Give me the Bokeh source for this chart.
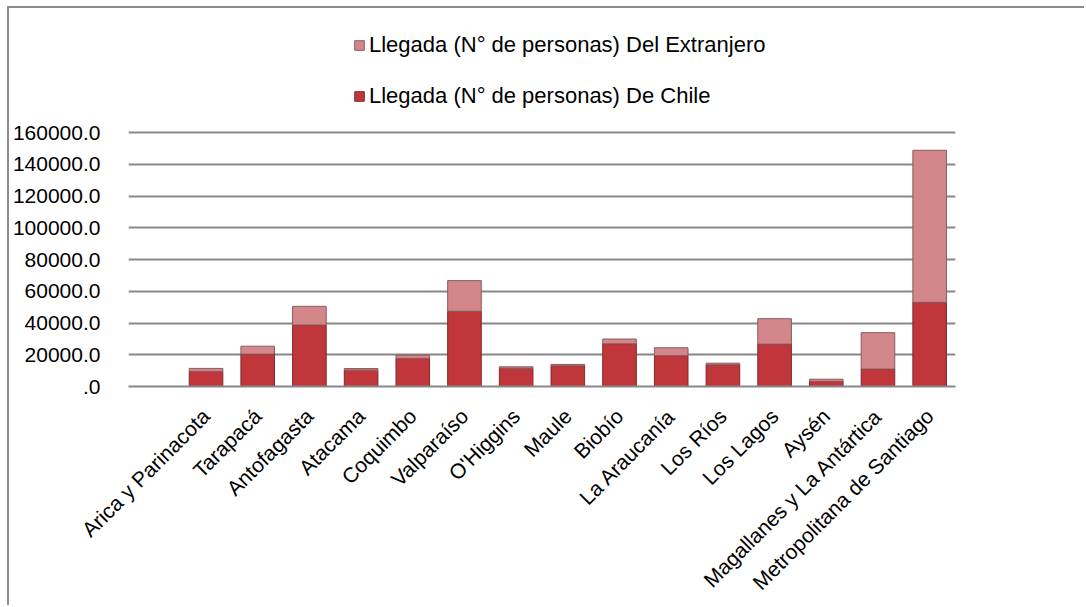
import math
from bokeh.plotting import figure
from bokeh.models import (FactorRange, Range1d, FixedTicker, Legend, LegendItem,
                          ColumnDataSource)
from bokeh.embed import file_html
from bokeh.resources import INLINE

regions = ["Arica y Parinacota", "Tarapacá", "Antofagasta", "Atacama", "Coquimbo",
           "Valparaíso", "O'Higgins", "Maule", "Biobío", "La Araucanía", "Los Ríos",
           "Los Lagos", "Aysén", "Magallanes y La Antártica", "Metropolitana de Santiago"]
de_chile = [9500, 20400, 38700, 10300, 17700, 47400, 11500, 13000, 26900, 19400,
            13700, 26700, 3200, 11000, 53000]
del_extranjero = [1900, 5000, 11800, 1000, 2100, 19300, 900, 900, 3000, 5000,
                  1000, 16000, 1400, 22900, 95800]
y_ticks = [0, 20000, 40000, 60000, 80000, 100000, 120000, 140000, 160000]

label_ext = "Llegada (N° de personas) Del Extranjero"
label_chile = "Llegada (N° de personas) De Chile"

factors = [" "] + regions

src = ColumnDataSource(dict(region=regions, chile=de_chile, ext=del_extranjero))

FONT = "Liberation Sans"
GRID = "#878787"

W, H = 1077, 599
FRAME_TOP_GAP = 124      # px between figure top and the 160000 gridline
FRAME_BOTTOM = 221       # px below the zero line
plot_h = H - FRAME_BOTTOM
y_top = y_ticks[-1] * plot_h / (plot_h - FRAME_TOP_GAP)

p = figure(width=W, height=H, x_range=FactorRange(factors=factors, range_padding=0),
           y_range=Range1d(0, y_top), output_backend="svg", toolbar_location=None,
           min_border_left=118, min_border_right=131, min_border_top=0,
           min_border_bottom=FRAME_BOTTOM)
p.outline_line_color = None
p.styles = {"margin-left": "7px", "margin-top": "6px",
            "border-left": "2px solid #8c8c8c", "border-top": "2px solid #8c8c8c"}

rs = p.vbar_stack(["chile", "ext"], x="region", width=0.65, source=src,
                  fill_color=["#c0363b", "#d4878a"],
                  line_color=["#7e2a2d", "#8a5a5c"], line_width=1)
r_chile, r_ext = rs

legend = Legend(items=[LegendItem(label=label_ext, renderers=[r_ext]),
                       LegendItem(label=label_chile, renderers=[r_chile])],
                location=(225, 277), orientation="vertical", spacing=25,
                glyph_width=12, glyph_height=12, label_standoff=4, padding=0,
                margin=0, border_line_color=None, background_fill_alpha=0,
                label_text_font_size="22px", label_text_font=FONT,
                label_text_color="#000000")
p.add_layout(legend)

p.yaxis.ticker = FixedTicker(ticks=y_ticks)
p.yaxis.major_label_overrides = {t: (f"{t:.1f}" if t else ".0") for t in y_ticks}
p.yaxis.axis_line_color = None
p.yaxis.major_tick_line_color = None
p.yaxis.minor_tick_line_color = None
p.yaxis.major_label_standoff = 22
p.yaxis.major_label_text_font = FONT
p.yaxis.major_label_text_font_size = "21px"
p.yaxis.major_label_text_color = "#000000"

p.xaxis.axis_line_color = GRID
p.xaxis.axis_line_width = 2
p.xaxis.major_tick_line_color = None
p.xaxis.minor_tick_line_color = None
p.xaxis.major_label_orientation = math.pi / 4
p.xaxis.major_label_standoff = 20
p.xaxis.major_label_text_font = FONT
p.xaxis.major_label_text_font_size = "21px"
p.xaxis.major_label_text_color = "#000000"

p.xgrid.grid_line_color = None
p.ygrid.grid_line_color = GRID
p.ygrid.grid_line_width = 2

open("out.html", "w").write(file_html(p, INLINE))
